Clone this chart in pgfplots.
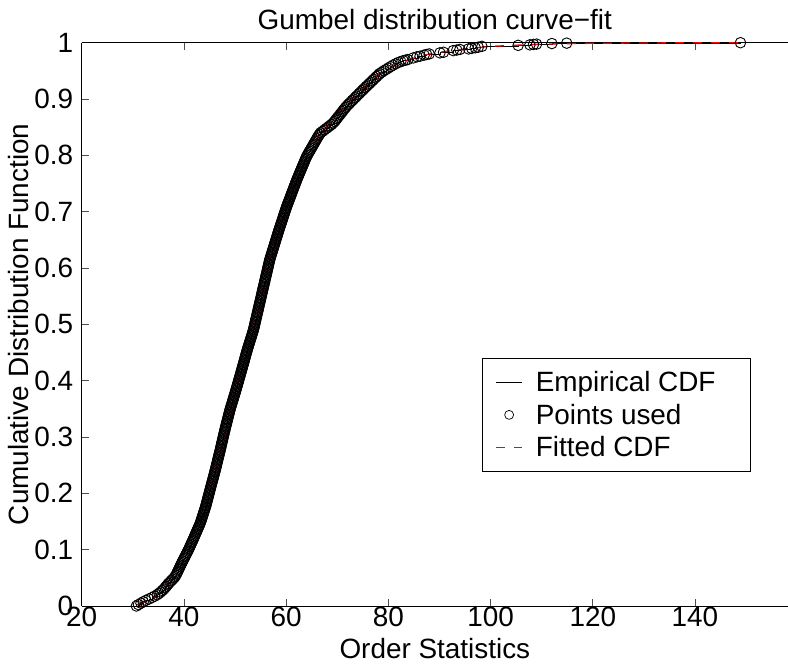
\documentclass[border=0pt]{standalone}
\usepackage{fontspec}
\setmainfont{Liberation Sans}
\usepackage{pgfplots}
\usepackage{pgfplotstable}
\pgfplotsset{compat=1.18}
\pgfplotsset{
  linelegend/.style={legend image code/.code={\draw[##1] (0bp,0bp) -- (26bp,0bp);}},
  marklegend/.style={legend image code/.code={\draw[##1, mark size=4.5bp, line width=0.7bp] plot coordinates {(13bp,0bp)};}},
}

\pgfplotstableread{
x y
30.70 0.000
31.10 0.0025
31.60 0.005
32.04 0.0075
32.57 0.010
33.16 0.0125
33.75 0.015
34.27 0.0175
34.78 0.020
35.13 0.0225
35.48 0.025
35.78 0.0275
36.08 0.030
36.31 0.0325
36.54 0.035
36.77 0.0375
37.00 0.040
37.27 0.0425
37.54 0.045
37.81 0.0475
38.08 0.050
38.27 0.0525
38.46 0.055
38.59 0.0575
38.72 0.060
38.85 0.0625
38.98 0.065
39.11 0.0675
39.24 0.070
39.37 0.0725
39.50 0.075
39.64 0.0775
39.78 0.080
39.92 0.0825
40.06 0.085
40.20 0.0875
40.34 0.090
40.48 0.0925
40.62 0.095
40.76 0.0975
40.90 0.100
41.03 0.1025
41.15 0.105
41.28 0.1075
41.40 0.110
41.53 0.1125
41.65 0.115
41.78 0.1175
41.90 0.120
42.02 0.1225
42.14 0.125
42.26 0.1275
42.38 0.130
42.50 0.1325
42.62 0.135
42.74 0.1375
42.86 0.140
42.98 0.1425
43.10 0.145
43.21 0.1475
43.31 0.150
43.40 0.1525
43.49 0.155
43.58 0.1575
43.66 0.160
43.75 0.1625
43.84 0.165
43.93 0.1675
44.02 0.170
44.11 0.1725
44.20 0.175
44.28 0.1775
44.35 0.180
44.42 0.1825
44.49 0.185
44.57 0.1875
44.64 0.190
44.71 0.1925
44.78 0.195
44.86 0.1975
44.93 0.200
45.00 0.2025
45.07 0.205
45.15 0.2075
45.22 0.210
45.29 0.2125
45.36 0.215
45.44 0.2175
45.51 0.220
45.59 0.2225
45.66 0.225
45.74 0.2275
45.81 0.230
45.88 0.2325
45.95 0.235
46.03 0.2375
46.10 0.240
46.17 0.2425
46.24 0.245
46.31 0.2475
46.37 0.250
46.44 0.2525
46.51 0.255
46.58 0.2575
46.64 0.260
46.71 0.2625
46.78 0.265
46.85 0.2675
46.91 0.270
46.98 0.2725
47.05 0.275
47.12 0.2775
47.18 0.280
47.25 0.2825
47.31 0.285
47.37 0.2875
47.43 0.290
47.50 0.2925
47.56 0.295
47.63 0.2975
47.69 0.300
47.76 0.3025
47.82 0.305
47.89 0.3075
47.95 0.310
48.02 0.3125
48.08 0.315
48.15 0.3175
48.22 0.320
48.29 0.3225
48.36 0.325
48.43 0.3275
48.50 0.330
48.57 0.3325
48.64 0.335
48.71 0.3375
48.78 0.340
48.85 0.3425
48.92 0.345
49.00 0.3475
49.07 0.350
49.15 0.3525
49.23 0.355
49.32 0.3575
49.40 0.360
49.49 0.3625
49.57 0.365
49.65 0.3675
49.73 0.370
49.82 0.3725
49.90 0.375
49.99 0.3775
50.07 0.380
50.15 0.3825
50.23 0.385
50.31 0.3875
50.39 0.390
50.47 0.3925
50.55 0.395
50.63 0.3975
50.70 0.400
50.78 0.4025
50.86 0.405
50.94 0.4075
51.02 0.410
51.10 0.4125
51.17 0.415
51.25 0.4175
51.33 0.420
51.41 0.4225
51.48 0.425
51.56 0.4275
51.64 0.430
51.72 0.4325
51.79 0.435
51.87 0.4375
51.94 0.440
52.02 0.4425
52.09 0.445
52.17 0.4475
52.25 0.450
52.33 0.4525
52.40 0.455
52.49 0.4575
52.57 0.460
52.66 0.4625
52.74 0.465
52.83 0.4675
52.91 0.470
53.00 0.4725
53.09 0.475
53.18 0.4775
53.26 0.480
53.35 0.4825
53.43 0.485
53.52 0.4875
53.60 0.490
53.67 0.4925
53.73 0.495
53.80 0.4975
53.86 0.500
53.92 0.5025
53.98 0.505
54.05 0.5075
54.11 0.510
54.18 0.5125
54.24 0.515
54.31 0.5175
54.37 0.520
54.44 0.5225
54.50 0.525
54.56 0.5275
54.62 0.530
54.69 0.5325
54.75 0.535
54.82 0.5375
54.88 0.540
54.95 0.5425
55.01 0.545
55.08 0.5475
55.14 0.550
55.20 0.5525
55.26 0.555
55.33 0.5575
55.39 0.560
55.46 0.5625
55.52 0.565
55.59 0.5675
55.65 0.570
55.72 0.5725
55.78 0.575
55.84 0.5775
55.90 0.580
55.97 0.5825
56.03 0.585
56.10 0.5875
56.16 0.590
56.23 0.5925
56.29 0.595
56.36 0.5975
56.42 0.600
56.48 0.6025
56.54 0.605
56.61 0.6075
56.67 0.610
56.74 0.6125
56.80 0.615
56.89 0.6175
56.97 0.620
57.06 0.6225
57.14 0.625
57.23 0.6275
57.31 0.630
57.40 0.6325
57.48 0.635
57.57 0.6375
57.65 0.640
57.74 0.6425
57.82 0.645
57.91 0.6475
57.99 0.650
58.08 0.6525
58.16 0.655
58.25 0.6575
58.33 0.660
58.42 0.6625
58.50 0.665
58.59 0.6675
58.68 0.670
58.77 0.6725
58.86 0.675
58.96 0.6775
59.05 0.680
59.14 0.6825
59.23 0.685
59.32 0.6875
59.41 0.690
59.50 0.6925
59.59 0.695
59.68 0.6975
59.77 0.700
59.86 0.7025
59.95 0.705
60.05 0.7075
60.14 0.710
60.25 0.7125
60.35 0.715
60.46 0.7175
60.56 0.720
60.67 0.7225
60.77 0.725
60.88 0.7275
60.98 0.730
61.08 0.7325
61.18 0.735
61.29 0.7375
61.39 0.740
61.50 0.7425
61.60 0.745
61.71 0.7475
61.81 0.750
61.92 0.7525
62.02 0.755
62.13 0.7575
62.24 0.760
62.36 0.7625
62.47 0.765
62.59 0.7675
62.70 0.770
62.82 0.7725
62.93 0.775
63.05 0.7775
63.17 0.780
63.29 0.7825
63.40 0.785
63.52 0.7875
63.63 0.790
63.75 0.7925
63.86 0.795
64.00 0.7975
64.13 0.800
64.29 0.8025
64.44 0.805
64.60 0.8075
64.76 0.810
64.92 0.8125
65.08 0.815
65.24 0.8175
65.39 0.820
65.55 0.8225
65.71 0.825
65.87 0.8275
66.03 0.830
66.19 0.8325
66.35 0.835
66.55 0.8375
66.74 0.840
67.10 0.8425
67.46 0.845
67.83 0.8475
68.19 0.850
68.55 0.8525
68.91 0.855
69.19 0.8575
69.46 0.860
69.68 0.8625
69.89 0.865
70.11 0.8675
70.33 0.870
70.55 0.8725
70.76 0.875
70.98 0.8775
71.19 0.880
71.41 0.8825
71.63 0.885
71.88 0.8875
72.13 0.890
72.41 0.8925
72.68 0.895
72.96 0.8975
73.23 0.900
73.51 0.9025
73.78 0.905
74.06 0.9075
74.33 0.910
74.61 0.9125
74.88 0.915
75.16 0.9175
75.44 0.920
75.73 0.9225
76.01 0.925
76.30 0.9275
76.58 0.930
76.87 0.9325
77.15 0.935
77.44 0.9375
77.72 0.940
78.01 0.9425
78.29 0.945
78.70 0.9475
79.11 0.950
79.56 0.9525
80.00 0.955
80.45 0.9575
80.89 0.960
81.43 0.9625
81.97 0.965
82.44 0.9665
82.90 0.968
83.35 0.969
83.80 0.970
84.90 0.973
85.60 0.975
86.20 0.976
87.00 0.978
87.50 0.979
88.00 0.980
90.10 0.982
90.80 0.983
92.70 0.986
93.40 0.987
94.00 0.988
95.70 0.989
96.30 0.990
97.00 0.991
97.60 0.992
98.30 0.9935
105.40 0.9953
107.70 0.9962
108.40 0.9970
109.00 0.9975
112.00 0.9985
114.90 0.9992
148.90 1.0000
}\ecdf

\pgfplotstableread{
x y
30.7 0.002
32 0.006
34 0.015
36 0.031
38 0.057
40 0.092
42 0.130
44 0.170
46 0.235
48 0.310
50 0.380
52 0.442
54 0.505
56 0.587
58 0.652
60 0.708
62 0.755
64 0.797
66 0.829
68 0.852
70 0.873
72 0.892
75 0.918
78 0.942
81 0.959
84 0.970
87 0.978
90 0.983
95 0.989
100 0.9935
110 0.9975
120 0.9990
135 0.9997
148.9 1.0
}\fitted

\newcommand{\bigfont}{\fontsize{28}{33}\selectfont}

\begin{document}
\begin{tikzpicture}
\begin{axis}[
  scale only axis,
  width=706.3bp, height=563.3bp,
  xmin=20, xmax=158.2, ymin=0, ymax=1,
  xtick={20,40,60,80,100,120,140},
  ytick={0,0.1,0.2,0.3,0.4,0.5,0.6,0.7,0.8,0.9,1},
  yticklabels={0,0.1,0.2,0.3,0.4,0.5,0.6,0.7,0.8,0.9,1},
  axis x line*=box, axis y line*=left,
  axis line style={line width=0.9bp, -},
  tick align=inside,
  major tick length=7bp,
  major tick style={line width=0.6bp, black!70},
  /pgf/number format/assume math mode=true,
  tick label style={font=\bigfont},
  yticklabel style={xshift=-5bp},
  xticklabel style={yshift=2bp},
  every axis title/.style={at={(axis description cs:0.5,1)}, anchor=base, yshift=13bp, font=\bigfont},
  every axis x label/.style={at={(axis description cs:0.5,0)}, anchor=base, yshift=-52bp, font=\bigfont},
  every axis y label/.style={at={(axis description cs:-0.076,0.5)}, anchor=base, rotate=90, font=\bigfont},
  title={Gumbel distribution curve−fit},
  xlabel={Order Statistics},
  ylabel={Cumulative Distribution Function},
  legend style={at={(0.5668,0.4405)}, anchor=north west, draw=black,
    line width=0.9bp, fill=white, font=\bigfont, row sep=7bp,
    inner xsep=13bp, inner ysep=11bp,
    /tikz/every odd column/.append style={column sep=11bp}},
  legend cell align=left,
]
\addplot[black, line width=0.7bp, const plot, linelegend] table[x=x,y=y] {\ecdf};
\addlegendentry{Empirical CDF\kern20bp\hbox to 0pt{}}
\addplot[black, only marks, mark=o, mark size=5.3bp, line width=0.9bp, marklegend] table[x=x,y=y] {\ecdf};
\addlegendentry{Points used}
\addplot[red, line width=1.3bp, dash pattern=on 9bp off 9bp, linelegend] table[x=x,y=y] {\fitted};
\addlegendentry{Fitted CDF}
\addplot[black, line width=0.7bp, forget plot] coordinates {(148.9,1) (158.2,1)};
\end{axis}
\pgfresetboundingbox
\path[use as bounding box] ([xshift=-81.7bp,yshift=-58.1bp]current axis.south west) rectangle ([yshift=42.7bp]current axis.north east);
\end{tikzpicture}
\end{document}
